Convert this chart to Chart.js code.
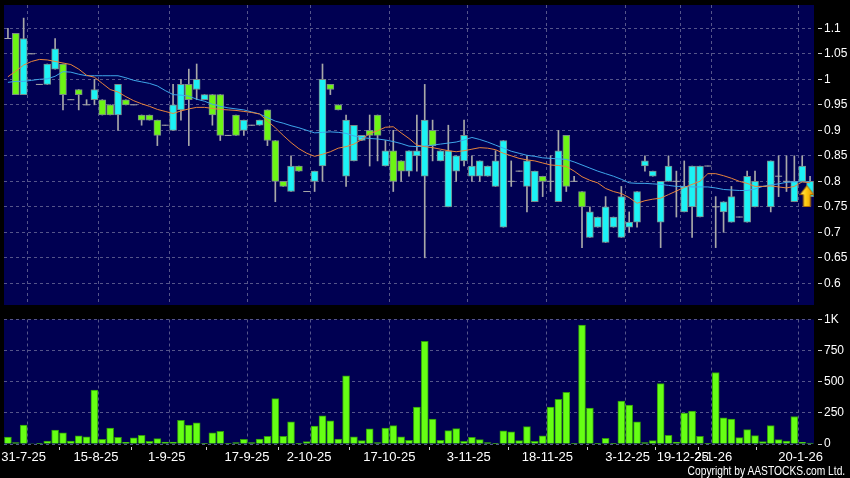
<!DOCTYPE html>
<html><head><meta charset="utf-8">
<script src="https://cdn.jsdelivr.net/npm/chart.js@4.4.1/dist/chart.umd.min.js"></script>
<style>
html,body{margin:0;padding:0;background:#000;}
body{width:850px;height:478px;position:relative;overflow:hidden;}
#pw{position:absolute;left:0;top:0;width:850px;height:310px;}
#vw{position:absolute;left:0;top:310px;width:850px;height:168px;}
#copy{position:absolute;right:5px;top:464px;color:#fff;font:12.5px/14px "Liberation Sans",Arial,sans-serif;white-space:nowrap;transform:scaleX(0.82);transform-origin:100% 50%;}
</style></head>
<body>
<div id="pw"><canvas id="price"></canvas></div>
<div id="vw"><canvas id="vol"></canvas></div>
<div id="copy">Copyright by AASTOCKS.com Ltd.</div>
<script>
// ---- data (one entry per trading bar) ----
const opens  = [1.08,1.09,0.97,1.05,0.99,0.99,1.02,1.03,0.96,0.98, 0.95,0.96,0.96,0.95,0.93,0.96,0.95,0.93,0.93,0.92, 0.91,0.90,0.94,0.99,0.98,0.96,0.97,0.97,0.89,0.93, 0.90,0.91,0.91,0.94,0.88,0.80,0.78,0.83,0.78,0.80, 0.83,0.99,0.95,0.81,0.84,0.88,0.90,0.93,0.83,0.86, 0.84,0.82,0.85,0.81,0.90,0.84,0.75,0.82,0.84,0.81, 0.81,0.81,0.79,0.71,0.80,0.82,0.79,0.76,0.81,0.80, 0.76,0.89,0.80,0.78,0.69,0.71,0.68,0.71,0.69,0.71, 0.72,0.83,0.81,0.72,0.80,0.80,0.74,0.75,0.73,0.83, 0.75,0.74,0.72,0.73,0.72,0.75,0.79,0.75,0.81,0.80, 0.76,0.80,0.77];
const highs  = [1.10,1.09,1.12,1.05,0.99,1.03,1.08,1.03,0.96,0.98, 0.96,1.00,0.96,0.95,0.99,0.96,0.95,0.93,0.93,0.92, 0.91,0.99,1.00,1.02,1.03,0.97,0.97,0.97,0.89,0.93, 0.92,0.91,0.92,0.94,0.88,0.80,0.85,0.83,0.78,0.82, 1.03,0.99,0.95,0.93,0.91,0.89,0.93,0.93,0.88,0.90, 0.84,0.86,0.93,0.99,0.92,0.86,0.91,0.85,0.92,0.85, 0.84,0.83,0.86,0.88,0.84,0.82,0.85,0.82,0.81,0.85, 0.90,0.89,0.81,0.78,0.75,0.73,0.77,0.73,0.79,0.74, 0.78,0.85,0.82,0.80,0.85,0.82,0.84,0.83,0.83,0.83, 0.77,0.76,0.79,0.73,0.82,0.82,0.79,0.84,0.85,0.85, 0.85,0.85,0.81];
const lows   = [1.08,0.97,0.97,1.05,0.99,0.99,1.02,0.94,0.96,0.94, 0.95,0.95,0.93,0.93,0.90,0.95,0.95,0.91,0.92,0.87, 0.91,0.90,0.92,0.87,0.96,0.96,0.91,0.88,0.89,0.89, 0.89,0.91,0.91,0.87,0.76,0.79,0.78,0.82,0.78,0.78, 0.80,0.97,0.94,0.79,0.84,0.88,0.83,0.84,0.83,0.78, 0.80,0.81,0.82,0.65,0.84,0.84,0.75,0.80,0.83,0.80, 0.80,0.81,0.79,0.71,0.79,0.82,0.74,0.76,0.77,0.78, 0.76,0.78,0.80,0.67,0.69,0.71,0.68,0.71,0.69,0.70, 0.71,0.82,0.81,0.67,0.80,0.73,0.74,0.69,0.73,0.83, 0.67,0.70,0.72,0.73,0.72,0.75,0.79,0.74,0.77,0.78, 0.76,0.80,0.77];
const closes = [1.08,0.97,1.08,1.05,0.99,1.03,1.06,0.97,0.96,0.97, 0.95,0.98,0.93,0.93,0.99,0.95,0.95,0.92,0.92,0.89, 0.91,0.95,0.99,0.96,1.00,0.97,0.93,0.89,0.89,0.89, 0.92,0.91,0.92,0.88,0.80,0.79,0.83,0.82,0.78,0.82, 1.00,0.98,0.94,0.92,0.91,0.89,0.89,0.89,0.86,0.80, 0.82,0.86,0.86,0.92,0.87,0.86,0.86,0.85,0.89,0.83, 0.84,0.83,0.84,0.88,0.80,0.82,0.84,0.82,0.80,0.80, 0.86,0.79,0.80,0.75,0.74,0.73,0.75,0.73,0.77,0.72, 0.78,0.84,0.82,0.80,0.83,0.80,0.79,0.83,0.83,0.83, 0.75,0.76,0.77,0.73,0.81,0.80,0.79,0.84,0.81,0.80, 0.80,0.83,0.80];
const volumes = [55,12,151,4,5,24,111,89,24,65, 57,434,38,127,54,14,49,70,22,43, 16,16,191,151,170,3,89,102,3,11, 38,11,40,62,364,62,178,5,19,143, 226,186,40,547,57,27,121,11,127,148, 57,30,297,824,200,30,108,124,22,54, 35,11,3,105,97,27,140,22,65,297, 359,415,3,956,289,5,46,3,345,313, 178,11,27,485,70,16,248,264,62,3, 574,210,200,51,116,67,19,148,35,24, 221,14,8];
const maShort = [1.005,1.016,1.028,1.035,1.039,1.038,1.035,1.032,1.029,1.020, 1.008,1.004,0.992,0.980,0.975,0.966,0.958,0.952,0.947,0.941, 0.937,0.933,0.938,0.942,0.945,0.945,0.943,0.941,0.940,0.939, 0.937,0.935,0.932,0.918,0.905,0.890,0.876,0.864,0.855,0.849, 0.853,0.858,0.865,0.868,0.873,0.882,0.894,0.899,0.906,0.907, 0.895,0.884,0.871,0.868,0.866,0.863,0.860,0.858,0.860,0.863, 0.866,0.865,0.862,0.855,0.850,0.845,0.842,0.840,0.836,0.832, 0.831,0.829,0.820,0.809,0.802,0.797,0.786,0.780,0.776,0.768, 0.757,0.762,0.765,0.767,0.774,0.781,0.788,0.794,0.800,0.815, 0.815,0.811,0.806,0.800,0.796,0.790,0.790,0.791,0.789,0.787, 0.790,0.799,0.797];
const maLong = [0.994,0.996,0.996,0.998,1.000,1.001,1.006,1.015,1.014,1.010, 1.007,1.007,1.007,1.007,1.007,1.003,0.998,0.995,0.992,0.987, 0.978,0.970,0.969,0.967,0.961,0.957,0.951,0.947,0.944,0.942, 0.940,0.936,0.932,0.925,0.918,0.914,0.909,0.905,0.900,0.895, 0.896,0.897,0.896,0.894,0.889,0.886,0.884,0.883,0.881,0.878, 0.874,0.869,0.868,0.869,0.871,0.873,0.875,0.877,0.881,0.886, 0.882,0.877,0.871,0.865,0.859,0.855,0.851,0.849,0.846,0.845, 0.844,0.843,0.838,0.832,0.826,0.820,0.815,0.810,0.804,0.797, 0.796,0.796,0.795,0.794,0.792,0.790,0.790,0.789,0.789,0.789, 0.787,0.784,0.783,0.782,0.782,0.785,0.790,0.793,0.795,0.798, 0.799,0.799,0.799];
const dateLabels = ['31-7-25','15-8-25','1-9-25','17-9-25','2-10-25','17-10-25','3-11-25','18-11-25','3-12-25','19-12-25','2-1-26','20-1-26'];
const dateLabelPos = [2,11.2,20.2,30.4,38.3,48.5,58.6,68.6,78.8,85.8,89.7,100.8];
const dateGridPos = [2.5,11.5,20.5,30.5,38.5,48.5,58.5,68.5,78.5,85.5,89.5,100.5];
const priceTicks = [0.6,0.65,0.7,0.75,0.8,0.85,0.9,0.95,1,1.05,1.1];
const priceTickLabels = ['0.6','0.65','0.7','0.75','0.8','0.85','0.9','0.95','1','1.05','1.1'];
const volTicks = [0,250,500,750,1000];
const volTickLabels = ['0','250','500','750','1K'];
const arrowPoint = [101.6, 0.771];

// ---- styling ----
const NAVY = '#000052', GRID = '#55558a', UP = '#1cf2f5', DOWN = '#6cf514';
const WICK = '#a8a8a8', BODY_BORDER = '#7a8a8a';
Chart.defaults.font.family = '"Liberation Sans", Arial, sans-serif';
Chart.defaults.animation = false;

const N = closes.length;
const idx = closes.map((_, i) => i);
const isFlat = i => opens[i] === closes[i];
const bodyIdx = idx.filter(i => !isFlat(i));
const flatIdx = idx.filter(isFlat);

const bgPlugin = {id: 'bg', beforeDraw(c) {
  const {ctx, chartArea: a} = c; ctx.save(); ctx.fillStyle = NAVY;
  ctx.fillRect(a.left, a.top, a.width, a.height); ctx.restore();
}};

function arrowImage() {
  const c = document.createElement('canvas'); c.width = 15; c.height = 22;
  const g = c.getContext('2d');
  const grad = g.createLinearGradient(0, 0, 15, 0);
  grad.addColorStop(0, '#fff07a'); grad.addColorStop(0.45, '#ffcc10'); grad.addColorStop(1, '#e08c00');
  g.beginPath();
  g.moveTo(7.5, 0.5); g.lineTo(14.5, 9.5); g.lineTo(11, 9.5); g.lineTo(11, 21.5);
  g.lineTo(4, 21.5); g.lineTo(4, 9.5); g.lineTo(0.5, 9.5); g.closePath();
  g.fillStyle = grad; g.fill(); g.strokeStyle = '#a86400'; g.lineWidth = 1; g.stroke();
  return c;
}

function xGridAxis() {
  return {type: 'linear', min: -0.5, max: N - 0.5, offset: false, bounds: 'data',
    afterBuildTicks: s => { s.ticks = dateGridPos.map(v => ({value: v})); },
    afterFit: s => { s.height = 0; s.paddingLeft = 0; s.paddingRight = 0; },
    ticks: {display: false},
    grid: {color: GRID, offset: false, drawTicks: false, lineWidth: 1},
    border: {display: false, dash: [3, 3]}};
}
function yAxis(min, max, tickVals, tickLabels) {
  return {type: 'linear', position: 'right', min, max,
    afterBuildTicks: s => { s.ticks = tickVals.map(v => ({value: v})); },
    afterFit: s => { s.width = 36; s.paddingTop = 0; s.paddingBottom = 0; },
    ticks: {color: '#ffffff', padding: 2, autoSkip: false, font: {size: 12}, callback: (v, i) => tickLabels[i]},
    grid: {color: GRID, drawTicks: true, tickLength: 8, tickColor: '#cfcfcf', tickWidth: 1, tickBorderDash: [0, 4, 4, 30]},
    border: {display: false, dash: [3, 3]}};
}

new Chart(document.getElementById('price'), {
  type: 'bar',
  data: {datasets: [
    {type: 'scatter', order: 0, data: [{x: arrowPoint[0], y: arrowPoint[1]}], pointStyle: arrowImage(), pointRadius: 1, pointHoverRadius: 1, pointBorderWidth: 0},
    {type: 'line', order: 1, data: idx.map(i => ({x: i, y: maShort[i]})), borderColor: '#e8843c', borderWidth: 1, pointRadius: 0, pointHoverRadius: 0, tension: 0},
    {type: 'line', order: 2, data: idx.map(i => ({x: i, y: maLong[i]})), borderColor: '#3ea6ea', borderWidth: 1, pointRadius: 0, pointHoverRadius: 0, tension: 0},
    {type: 'scatter', order: 3, data: flatIdx.map(i => ({x: i, y: closes[i]})), pointStyle: 'line', pointRadius: 3.5, pointHoverRadius: 3.5, borderColor: WICK, borderWidth: 1},
    {order: 4, grouped: false, data: bodyIdx.map(i => ({x: i, y: [opens[i], closes[i]]})),
      backgroundColor: bodyIdx.map(i => closes[i] > opens[i] ? UP : DOWN),
      borderColor: BODY_BORDER, borderWidth: 1, borderSkipped: false, barThickness: 7},
    {order: 5, grouped: false, data: idx.map(i => ({x: i, y: [lows[i], highs[i]]})),
      backgroundColor: WICK, borderWidth: 0, barThickness: 1}
  ]},
  options: {responsive: true, maintainAspectRatio: false, events: [],
    layout: {autoPadding: false, padding: {left: 4, top: 5, right: 0, bottom: 5}},
    plugins: {legend: {display: false}, tooltip: {enabled: false}},
    scales: {x: xGridAxis(), y: yAxis(0.5575, 1.1457, priceTicks, priceTickLabels)}},
  plugins: [bgPlugin]
});

new Chart(document.getElementById('vol'), {
  type: 'bar',
  data: {datasets: [
    {grouped: false, data: idx.map(i => ({x: i, y: volumes[i]})), backgroundColor: '#66ff14',
      borderColor: '#2f9a0c', borderWidth: 1, borderSkipped: 'start', barThickness: 7}
  ]},
  options: {responsive: true, maintainAspectRatio: false, events: [],
    layout: {autoPadding: false, padding: {left: 4, top: 9.5, right: 0, bottom: 0}},
    plugins: {legend: {display: false}, tooltip: {enabled: false}},
    scales: {
      x: xGridAxis(),
      xl: {type: 'linear', position: 'bottom', min: -0.5, max: N - 0.5, offset: false, bounds: 'data',
        afterBuildTicks: s => { s.ticks = dateLabelPos.map(v => ({value: v})); },
        afterFit: s => { s.height = 34; s.paddingLeft = 0; s.paddingRight = 0; },
        ticks: {color: '#ffffff', autoSkip: false, maxRotation: 0, minRotation: 0, padding: 0, font: {size: 13},
          callback: (v, i) => dateLabels[i]},
        grid: {drawOnChartArea: false, drawTicks: true, tickLength: 6, tickColor: '#cfcfcf', tickBorderDash: [0, 3, 3, 30]},
        border: {display: false}},
      y: yAxis(0, 1000, volTicks, volTickLabels)
    }},
  plugins: [bgPlugin]
});
</script>
</body></html>
